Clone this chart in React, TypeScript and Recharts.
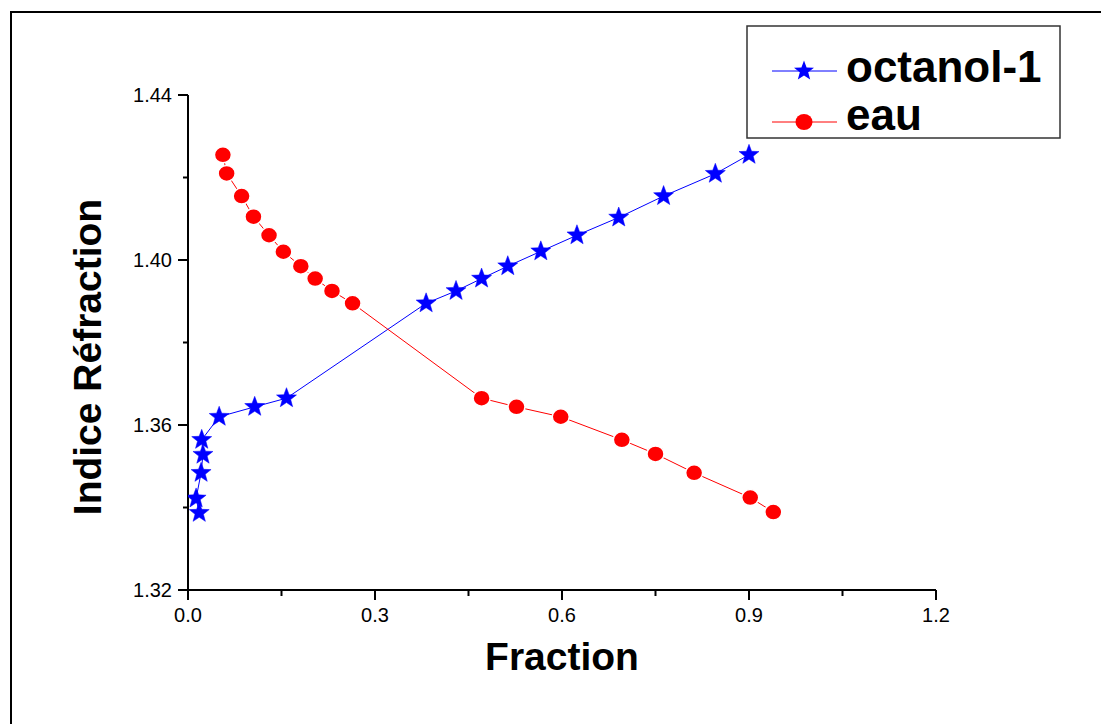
import React from 'react';
import { LineChart, Line, XAxis, YAxis, Legend, Label } from 'recharts';

const octanolX = [0.018, 0.013, 0.021, 0.024, 0.022, 0.050, 0.107, 0.158, 0.382, 0.430, 0.471, 0.513, 0.566, 0.624, 0.691, 0.763, 0.846, 0.900];
const octanolY = [1.3387, 1.3422, 1.3484, 1.3528, 1.3564, 1.362, 1.3644, 1.3665, 1.3895, 1.3925, 1.3955, 1.3985, 1.4021, 1.406, 1.4103, 1.4155, 1.4209, 1.4255];
const eauX = [0.056, 0.062, 0.086, 0.105, 0.130, 0.153, 0.181, 0.204, 0.231, 0.264, 0.471, 0.527, 0.598, 0.696, 0.750, 0.812, 0.902, 0.939];
const eauY = [1.4255, 1.421, 1.4155, 1.4105, 1.406, 1.402, 1.3985, 1.3955, 1.3925, 1.3895, 1.3665, 1.3644, 1.362, 1.3564, 1.353, 1.3484, 1.3424, 1.3389];

const xMajorTicks = [0, 0.3, 0.6, 0.9, 1.2];
const xMinorTicks = [0.15, 0.45, 0.75, 1.05];
const yMajorTicks = [1.32, 1.36, 1.40, 1.44];
const yMinorTicks = [1.34, 1.38, 1.42];

const octanolData = octanolX.map((x, i) => ({ x, y: octanolY[i] }));
const eauData = eauX.map((x, i) => ({ x, y: eauY[i] }));

const FONT = '"Liberation Sans", Arial, Helvetica, sans-serif';

const starPoints = (cx: number, cy: number, R: number, r: number) => {
  const pts: string[] = [];
  for (let i = 0; i < 10; i++) {
    const ang = -Math.PI / 2 + (i * Math.PI) / 5;
    const rad = i % 2 === 0 ? R : r;
    pts.push(`${(cx + rad * Math.cos(ang)).toFixed(2)},${(cy + rad * Math.sin(ang)).toFixed(2)}`);
  }
  return pts.join(' ');
};

const StarDot = (props: any) => {
  const { cx, cy, index } = props;
  if (cx == null || cy == null) return <g key={`s${index}`} />;
  return <polygon key={`s${index}`} points={starPoints(cx, cy, 10.5, 4.4)} fill="#0000ff" stroke="#0000ff" strokeWidth={0.5} />;
};

const CircleDot = (props: any) => {
  const { cx, cy, index } = props;
  if (cx == null || cy == null) return <g key={`c${index}`} />;
  return <ellipse key={`c${index}`} cx={cx} cy={cy} rx={8.5} ry={8} fill="#ff0000" stroke="#ffffff" strokeWidth={1.5} />;
};

const XTick = (props: any) => {
  const { x, y, payload } = props;
  const v = payload.value;
  const major = xMajorTicks.some((t) => Math.abs(t - v) < 1e-6);
  return (
    <g>
      <line x1={x} y1={y} x2={x} y2={y + (major ? 10 : 6)} stroke="#000" strokeWidth={2} />
      {major && (
        <text x={x} y={y + 32} textAnchor="middle" fontFamily={FONT} fontSize={20} fill="#000">
          {v.toFixed(1)}
        </text>
      )}
    </g>
  );
};

const YTick = (props: any) => {
  const { x, y, payload } = props;
  const v = payload.value;
  const major = yMajorTicks.some((t) => Math.abs(t - v) < 1e-6);
  return (
    <g>
      <line x1={x - (major ? 10 : 5)} y1={y} x2={x} y2={y} stroke="#000" strokeWidth={2} />
      {major && (
        <text x={x - 16} y={y + 7} textAnchor="end" fontFamily={FONT} fontSize={20} fill="#000">
          {v.toFixed(2)}
        </text>
      )}
    </g>
  );
};

const LegendBox = () => (
  <svg width={316} height={115} style={{ display: 'block' }}>
    <rect x={1} y={1} width={313} height={112} fill="#fff" stroke="#333" strokeWidth={1.5} />
    <line x1={26} y1={46} x2={91} y2={46} stroke="#0000ff" strokeWidth={1} />
    <polygon points={starPoints(58, 46, 10.5, 4.4)} fill="#0000ff" />
    <text x={100} y={57} fontFamily={FONT} fontWeight="bold" fontSize={44} fill="#000">octanol-1</text>
    <line x1={26} y1={97} x2={91} y2={97} stroke="#ff0000" strokeWidth={1} />
    <ellipse cx={58} cy={97} rx={8.5} ry={8} fill="#ff0000" />
    <text x={100} y={105} fontFamily={FONT} fontWeight="bold" fontSize={44} fill="#000">eau</text>
  </svg>
);

export default function App() {
  return (
    <div style={{ position: 'absolute', left: 0, top: 0, width: 1101, height: 724, background: '#fff' }}>
      <div
        style={{
          position: 'absolute',
          left: 10,
          top: 11,
          width: 1100,
          height: 720,
          borderTop: '2px solid #000',
          borderLeft: '2px solid #000',
        }}
      />
      <div style={{ position: 'absolute', left: 0, top: 0 }}>
        <LineChart width={1101} height={724} margin={{ top: 95, right: 165, bottom: 0, left: 0 }}>
          <XAxis
            type="number"
            dataKey="x"
            domain={[0, 1.2]}
            ticks={[...xMajorTicks, ...xMinorTicks].sort((a, b) => a - b)}
            interval={0}
            allowDataOverflow
            height={134}
            tickSize={0}
            tickMargin={0}
            tickLine={false}
            tick={<XTick />}
            axisLine={{ stroke: '#000', strokeWidth: 2 }}
          >
            <Label
              content={(p: any) => {
                const vb = p.viewBox;
                return (
                  <text x={vb.x + vb.width / 2} y={vb.y + 80} textAnchor="middle" fontFamily={FONT} fontWeight="bold" fontSize={39} fill="#000">
                    Fraction
                  </text>
                );
              }}
            />
          </XAxis>
          <YAxis
            type="number"
            dataKey="y"
            domain={[1.32, 1.44]}
            ticks={[...yMajorTicks, ...yMinorTicks].sort((a, b) => a - b)}
            interval={0}
            allowDataOverflow
            width={188}
            tickSize={0}
            tickMargin={0}
            tickLine={false}
            tick={<YTick />}
            axisLine={{ stroke: '#000', strokeWidth: 2 }}
          >
            <Label
              content={() => (
                <text
                  x={87}
                  y={357}
                  transform="rotate(-90 87 357)"
                  textAnchor="middle"
                  dominantBaseline="central"
                  fontFamily={FONT}
                  fontWeight="bold"
                  fontSize={39}
                  fill="#000"
                >
                  Indice Réfraction
                </text>
              )}
            />
          </YAxis>
          <Legend
            layout="horizontal"
            align="center"
            verticalAlign="middle"
            wrapperStyle={{ position: 'absolute', left: 746, top: 25, width: 316, height: 115 }}
            content={() => <LegendBox />}
          />
          <Line
            data={octanolData}
            dataKey="y"
            name="octanol-1"
            type="linear"
            stroke="#0000ff"
            strokeWidth={1}
            dot={StarDot}
            activeDot={false}
            isAnimationActive={false}
          />
          <Line
            data={eauData}
            dataKey="y"
            name="eau"
            type="linear"
            stroke="#ff0000"
            strokeWidth={1}
            dot={CircleDot}
            activeDot={false}
            isAnimationActive={false}
          />
        </LineChart>
      </div>
    </div>
  );
}
